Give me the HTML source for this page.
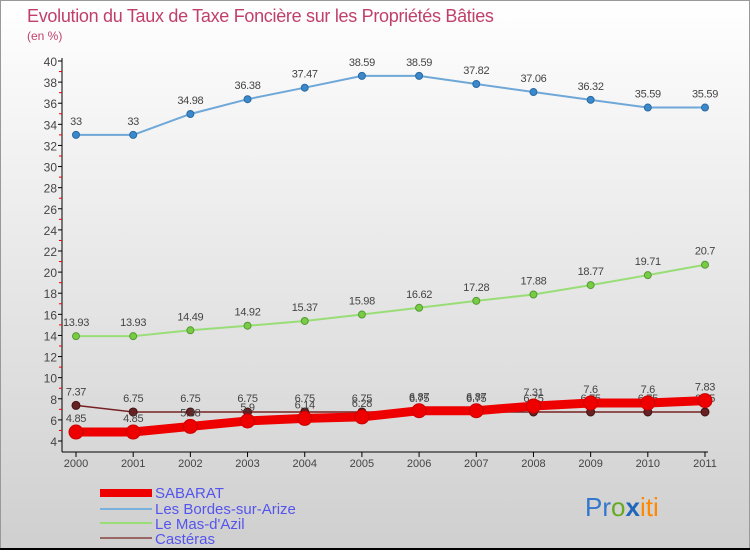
<!DOCTYPE html>
<html><head><meta charset="utf-8"><style>
body{margin:0;width:750px;height:550px;overflow:hidden;font-family:"Liberation Sans",sans-serif}
</style></head><body>
<svg id="c" width="750" height="550" xmlns="http://www.w3.org/2000/svg" style="font-family:'Liberation Sans',sans-serif">
<defs><linearGradient id="bg" x1="0" y1="0" x2="0" y2="1"><stop offset="0" stop-color="#ffffff"/><stop offset="1" stop-color="#cfcfcf"/></linearGradient></defs>
<rect x="0" y="0" width="750" height="550" fill="url(#bg)"/>
<rect x="0.5" y="0.5" width="749" height="548" fill="none" stroke="#999"/>
<line x1="0" y1="549" x2="750" y2="549" stroke="#000" stroke-width="2"/>
<text x="27" y="22" font-size="18" letter-spacing="-0.3" fill="#c0406a">Evolution du Taux de Taxe Foncière sur les Propriétés Bâties</text>
<text x="27" y="40" font-size="12" fill="#c0406a">(en %)</text>
<g id="axes"></g><g id="series"></g>
<g font-size="15" fill="#5555ee">
<rect x="100" y="489" width="52" height="8" fill="#ee0000"/>
<text x="155" y="498">SABARAT</text>
<line x1="100" y1="509" x2="152" y2="509" stroke="#7ab0dc" stroke-width="2"/>
<text x="155" y="514">Les Bordes-sur-Arize</text>
<line x1="100" y1="523" x2="152" y2="523" stroke="#99dd77" stroke-width="2"/>
<text x="155" y="529">Le Mas-d'Azil</text>
<line x1="100" y1="538" x2="152" y2="538" stroke="#996666" stroke-width="2"/>
<text x="155" y="544">Castéras</text>
</g>
<text x="585" y="516" font-size="26"><tspan fill="#3377cc">Pr</tspan><tspan fill="#66aa22">o</tspan><tspan fill="#2266bb" font-weight="bold">x</tspan><tspan fill="#ff8800">iti</tspan></text>
</svg>
<script>
const years=["2000","2001","2002","2003","2004","2005","2006","2007","2008","2009","2010","2011"];
const yTicks=[4,6,8,10,12,14,16,18,20,22,24,26,28,30,32,34,36,38,40];
const sabarat=[4.85,4.85,5.38,5.9,6.14,6.28,6.87,6.87,7.31,7.6,7.6,7.83];
const bordes=[33,33,34.98,36.38,37.47,38.59,38.59,37.82,37.06,36.32,35.59,35.59];
const mas=[13.93,13.93,14.49,14.92,15.37,15.98,16.62,17.28,17.88,18.77,19.71,20.7];
const casteras=[7.37,6.75,6.75,6.75,6.75,6.75,6.75,6.75,6.75,6.75,6.75,6.75];
const NS="http://www.w3.org/2000/svg";
const X=i=>76+i*(705-76)/(years.length-1);
const Y=v=>441-(v-4)*(441-61)/36;
function mk(tag,attrs,parent,txt){const e=document.createElementNS(NS,tag);for(const k in attrs)e.setAttribute(k,attrs[k]);if(txt!==undefined)e.textContent=txt;parent.appendChild(e);return e;}
const ax=document.getElementById('axes');
let e=mk('line',{x1:62,y1:58,x2:62,y2:452,stroke:'#000'},ax);


e=mk('line',{x1:62,y1:452,x2:708,y2:452,stroke:'#000'},ax);


yTicks.forEach((t,k)=>{
  const y=Y(t);
  let l=mk('line',{x1:58,y1:y,x2:62,y2:y,stroke:'#000'},ax);
  
  
  if(k<yTicks.length-1){let m=mk('line',{x1:59,y1:Y(t+1),x2:62,y2:Y(t+1),stroke:'#e00'},ax);
  
  }
  let tx=mk('text',{x:57,y:y+5,'text-anchor':'end','font-size':12,fill:'#444'},ax,t);
  
  
});
years.forEach((yr,i)=>{
  let l=mk('line',{x1:X(i),y1:452,x2:X(i),y2:457,stroke:'#000'},ax);
  
  
  let tx=mk('text',{x:X(i),y:467,'text-anchor':'middle','font-size':11,fill:'#444'},ax,yr);
  
  
});
const sg=document.getElementById('series');
function series(name,data,color,w,r,fill,stroke){
  const g=mk('g',{},sg);
  
  
  let p=mk('polyline',{points:data.map((v,i)=>X(i)+','+Y(v)).join(' '),fill:'none',stroke:color,'stroke-width':w,'stroke-linejoin':'round'},g);
  
  
  data.forEach((v,i)=>{
    let c=mk('circle',{cx:X(i),cy:Y(v),r:r,fill:fill,stroke:stroke,'stroke-width':1},g);
    
    
    let t=mk('text',{x:X(i),y:Y(v)-10,'text-anchor':'middle','font-size':11,'letter-spacing':'-0.3',fill:'#444'},g,String(v));
    
    
  });
}
series('bordes',bordes,'#6fa8d8',2,3.5,'#3b88cc','#2a6aa0');
series('mas',mas,'#99dd77',2,3.5,'#77cc44','#559933');
series('casteras',casteras,'#772222',1.5,4,'#662222','#441111');
series('sabarat',sabarat,'#ee0000',9,7,'#ee0000','#cc0000');
</script>
</body></html>
